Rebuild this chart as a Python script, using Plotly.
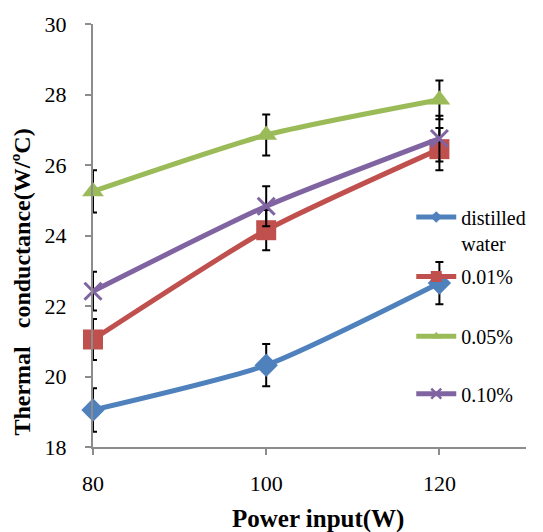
import plotly.graph_objects as go

# Power input (W)
power = [80, 100, 120]

# Thermal conductance (W/ºC) and error half-widths
distilled = [19.05, 20.32, 22.65]
distilled_err = [0.62, 0.60, 0.60]
c001 = [21.05, 24.15, 26.45]
c001_err = [0.58, 0.57, 0.60]
c005 = [25.25, 26.85, 27.85]
c005_err = [0.60, 0.58, 0.55]
c010 = [22.42, 24.83, 26.75]
c010_err = [0.55, 0.57, 0.65]

names = ["distilled<br>water", "0.01%", "0.05%", "0.10%"]
series = [distilled, c001, c005, c010]
errors = [distilled_err, c001_err, c005_err, c010_err]
colors = ["#4F81BD", "#C0504D", "#9BBB59", "#8064A2"]
symbols = ["diamond", "square", "triangle-up", "x-thin"]
sizes = [18, 20, 19, 17]
legend_sizes = [9, 11, 9, 10]
legend_ids = ["legend", "legend2", "legend3", "legend4"]
legend_y = [0.513, 0.403, 0.262, 0.126]

FONT = "Times New Roman, Liberation Serif, serif"

fig = go.Figure()
for name, ys, err, col, sym, sz, lsz, lg in zip(names, series, errors, colors,
                                                 symbols, sizes, legend_sizes, legend_ids):
    marker = dict(symbol=sym, size=sz, color=col)
    if sym == "x-thin":
        marker["line"] = dict(color=col, width=3)
    fig.add_trace(go.Scatter(
        x=power, y=ys, name=name, mode="lines+markers",
        line=dict(color=col, width=5, shape="spline", smoothing=0.6),
        marker=marker, cliponaxis=False,
        error_y=dict(type="data", array=err, visible=True,
                     color="black", thickness=2, width=4),
        showlegend=False,
    ))
    # legend key with a smaller marker
    key_marker = dict(symbol=sym, size=lsz, color=col)
    if sym == "x-thin":
        key_marker["line"] = dict(color=col, width=2.5)
    fig.add_trace(go.Scatter(
        x=[None], y=[None], name=name, mode="lines+markers",
        line=dict(color=col, width=5), marker=key_marker,
        legend=lg, showlegend=True, hoverinfo="skip",
    ))

layout_legends = {}
for lg, ly in zip(legend_ids, legend_y):
    layout_legends[lg] = dict(
        x=0.735, y=ly, xanchor="left", yanchor="middle",
        bgcolor="rgba(0,0,0,0)", valign="top",
        font=dict(family=FONT, size=20, color="black"),
        itemwidth=40,
    )

fig.update_layout(
    width=543, height=532,
    margin=dict(l=93, r=16, t=20, b=85),
    paper_bgcolor="white", plot_bgcolor="white",
    font=dict(family=FONT, color="black"),
    showlegend=True,
    xaxis=dict(
        range=[80, 130], tickvals=power, ticktext=[str(p) for p in power],
        showgrid=False, zeroline=False,
        showline=True, linecolor="#8c8c8c", linewidth=2,
        ticks="outside", ticklen=6, tickcolor="#8c8c8c", tickwidth=2,
        tickfont=dict(family=FONT, size=22, color="black"),
        ticklabelstandoff=10,
    ),
    yaxis=dict(
        range=[18, 30], tickvals=[18, 20, 22, 24, 26, 28, 30],
        showgrid=False, zeroline=False,
        showline=True, linecolor="#8c8c8c", linewidth=2,
        ticks="outside", ticklen=6, tickcolor="#8c8c8c", tickwidth=2,
        tickfont=dict(family=FONT, size=22, color="black"),
        ticklabelstandoff=14,
    ),
    annotations=[
        dict(text="<b>Thermal   conductance(W/ºC)</b>", textangle=-90,
             xref="paper", yref="paper", x=-0.165, y=0.39,
             xanchor="center", yanchor="middle", showarrow=False,
             font=dict(family=FONT, size=24, color="black")),
        dict(text="<b>Power input(W)</b>",
             xref="paper", yref="paper", x=0.52, y=-0.17,
             xanchor="center", yanchor="middle", showarrow=False,
             font=dict(family=FONT, size=25, color="black")),
    ],
    **layout_legends,
)

fig.write_html("out.html")
